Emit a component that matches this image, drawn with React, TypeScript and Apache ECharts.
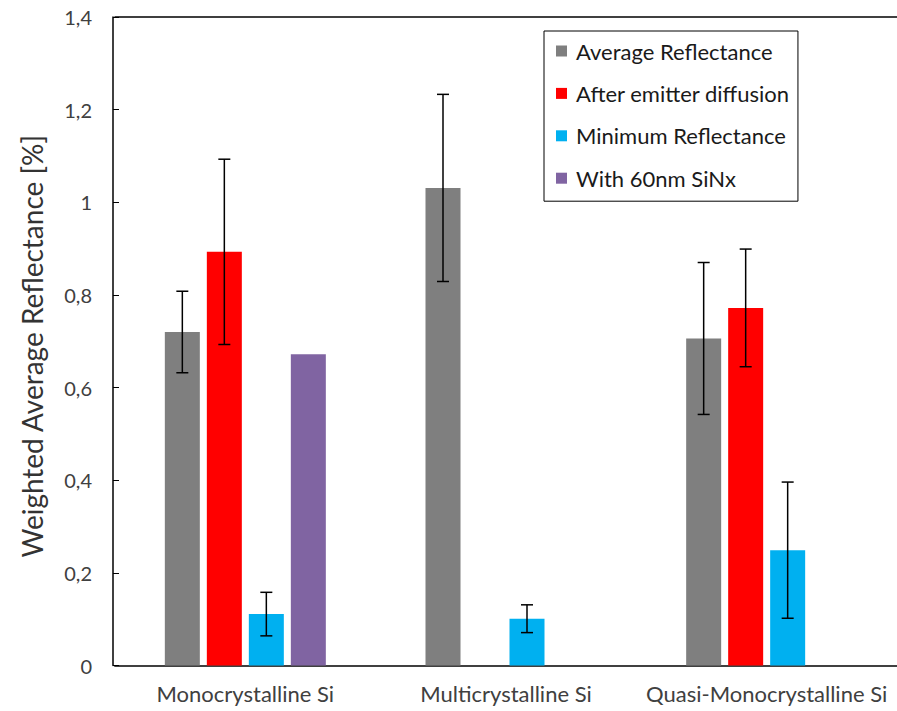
import React, { useEffect, useRef } from "react";
import * as echarts from "echarts";

const categories = ["Monocrystalline Si", "Multicrystalline Si", "Quasi-Monocrystalline Si"];
const seriesNames = ["Average Reflectance", "After emitter diffusion", "Minimum Reflectance", "With 60nm SiNx"];
const averageReflectance = [0.72, 1.031, 0.706];
const averageError = [0.088, 0.202, 0.164];
const afterDiffusion = [0.893, null, 0.772];
const afterDiffusionError = [0.2, null, 0.127];
const minimumReflectance = [0.111, 0.101, 0.249];
const minimumError = [0.047, 0.03, 0.147];
const withSiNx = [0.672, null, null];
const yTicks = [0, 0.2, 0.4, 0.6, 0.8, 1, 1.2, 1.4];

const colors = ["#7f7f7f", "#ff0000", "#00b0f0", "#8064a2"];
const FONT = "Lato, 'Open Sans', sans-serif";
const BAR_W = 35;
const BAR_STEP = 42;

function errorSeries(name: string, values: (number | null)[], errors: (number | null)[], slot: number) {
  const data = values
    .map((v, i) => (v == null || errors[i] == null ? null : [i, v, errors[i]]))
    .filter((d) => d != null);
  return {
    type: "custom",
    name,
    xAxisIndex: 0,
    yAxisIndex: 0,
    z: 10,
    silent: true,
    encode: { x: 0, y: 1 },
    data,
    renderItem: (params: any, api: any) => {
      const ci = api.value(0);
      const v = api.value(1);
      const e = api.value(2);
      const top = api.coord([ci, v + e]);
      const bot = api.coord([ci, v - e]);
      const x = top[0] + (slot - 1.5) * BAR_STEP;
      const cap = 6;
      const style = { stroke: "#000", lineWidth: 1.5 };
      return {
        type: "group",
        children: [
          { type: "line", shape: { x1: x, y1: top[1], x2: x, y2: bot[1] }, style },
          { type: "line", shape: { x1: x - cap, y1: top[1], x2: x + cap, y2: top[1] }, style },
          { type: "line", shape: { x1: x - cap, y1: bot[1], x2: x + cap, y2: bot[1] }, style },
        ],
      };
    },
  };
}

export default function App() {
  const ref = useRef<HTMLDivElement>(null);
  useEffect(() => {
    if (!ref.current) return;
    const chart = echarts.init(ref.current, undefined, { renderer: "svg" });
    const barValues = [averageReflectance, afterDiffusion, minimumReflectance, withSiNx];
    chart.setOption({
      animation: false,
      backgroundColor: "#fff",
      grid: { left: 115, top: 17, width: 786, height: 648.5, containLabel: false },
      legend: {
        data: seriesNames,
        orient: "vertical",
        left: 544,
        top: 31,
        backgroundColor: "#fff",
        borderColor: "#000",
        borderWidth: 1,
        borderRadius: 0,
        padding: [8, 8, 11, 12],
        icon: "rect",
        itemWidth: 11,
        itemHeight: 11,
        itemGap: 18.4,
        textStyle: { fontFamily: FONT, fontSize: 22, lineHeight: 24, color: "#1a1a1a", padding: [0, 0, 0, 4] },
      },
      xAxis: [
        {
          type: "category",
          data: categories,
          axisLine: { show: true, lineStyle: { color: "#404040", width: 2 } },
          axisTick: { show: false },
          axisLabel: { fontFamily: FONT, fontSize: 22, color: "#404040", margin: 17, interval: 0 },
        },
        {
          type: "category",
          position: "top",
          data: categories,
          axisLine: { show: true, lineStyle: { color: "#000", width: 1.5 } },
          axisTick: { show: false },
          axisLabel: { show: false },
        },
      ],
      yAxis: {
        type: "value",
        min: 0,
        max: 1.4,
        interval: 0.2,
        offset: 2,
        name: "Weighted Average Reflectance [%]",
        nameLocation: "middle",
        nameGap: 67,
        nameTextStyle: { fontFamily: FONT, fontSize: 28, fontWeight: "normal", color: "#333333", padding: [0, 10, 0, 0] },
        axisLine: { show: true, lineStyle: { color: "#000", width: 1.5 } },
        axisTick: { show: true, inside: true, length: 6, lineStyle: { color: "#000" } },
        splitLine: { show: false },
        axisLabel: {
          fontFamily: FONT,
          fontSize: 20,
          color: "#404040",
          margin: 21,
          formatter: (v: number) => {
            const t = yTicks.find((k) => Math.abs(k - v) < 1e-6);
            return String(t ?? v).replace(".", ",");
          },
        },
      },
      series: [
        ...barValues.map((vals, i) => ({
          type: "bar",
          name: seriesNames[i],
          data: vals,
          barWidth: BAR_W,
          barGap: "20%",
          itemStyle: { color: colors[i] },
        })),
        errorSeries("err-avg", averageReflectance, averageError, 0),
        errorSeries("err-after", afterDiffusion, afterDiffusionError, 1),
        errorSeries("err-min", minimumReflectance, minimumError, 2),
      ],
    });
    return () => chart.dispose();
  }, []);
  return <div ref={ref} style={{ position: "fixed", left: 0, top: 0, width: 897, height: 711 }} />;
}
